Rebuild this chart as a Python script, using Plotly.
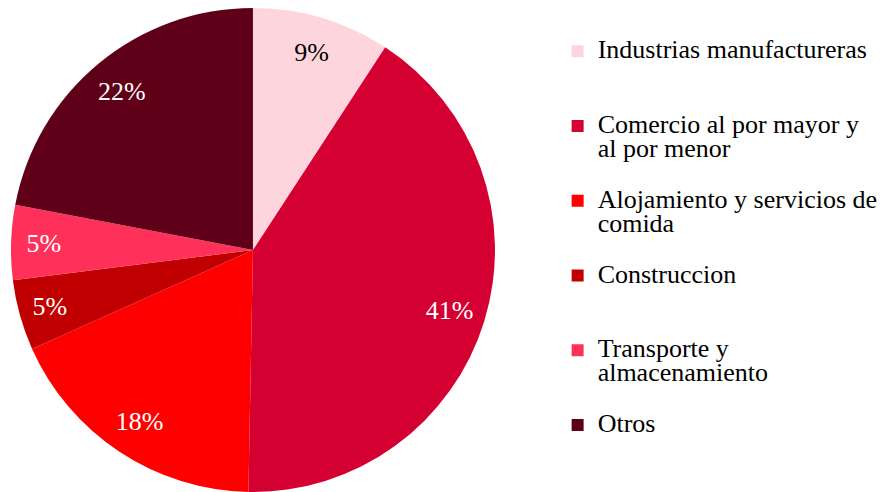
import plotly.graph_objects as go

# sectores y su participacion (%)
sectores = ["Industrias manufactureras",
            "Comercio al por mayor y<br>al por menor",
            "Alojamiento y servicios de<br>comida",
            "Construccion",
            "Transporte y<br>almacenamiento",
            "Otros"]
participacion = [9.2, 41.1, 18.0, 4.7, 5.0, 22.0]
colores = ["#FFD5DD", "#D50032", "#FF0000", "#C00000", "#FF305A", "#600018"]
color_texto = ["black", "white", "white", "white", "white", "white"]

# todas las etiquetas con 3 lineas para que el espacio entre items sea parejo
def etiqueta(s):
    lineas = s.split("<br>")
    lineas += [" "] * (3 - len(lineas))
    return "<br>".join("<span style='font-size:26px'>%s</span>" % l for l in lineas)

etiquetas = [etiqueta(s) for s in sectores]

dominio = dict(x=[0, 0.558], y=[0, 1])

fig = go.Figure()
fig.add_trace(go.Pie(
    labels=etiquetas,
    values=participacion,
    sort=False,
    direction="clockwise",
    rotation=0,
    marker=dict(colors=colores, line=dict(width=0)),
    textinfo="none",
    domain=dominio,
    hoverinfo="percent",
))
# anillo transparente solo para ubicar los porcentajes cerca del borde
fig.add_trace(go.Pie(
    labels=etiquetas,
    values=participacion,
    sort=False,
    direction="clockwise",
    rotation=0,
    hole=0.7,
    marker=dict(colors=["rgba(0,0,0,0)"] * len(participacion), line=dict(width=0)),
    texttemplate="%{percent:.0%}",
    textposition="inside",
    insidetextorientation="horizontal",
    insidetextfont=dict(family="Liberation Serif", size=26, color=color_texto),
    domain=dominio,
    showlegend=False,
    hoverinfo="skip",
))

# la pagina deja 8px de margen, por eso la figura es 8px mas chica
fig.update_layout(
    width=878, height=484,
    margin=dict(l=0, r=0, t=0, b=0),
    paper_bgcolor="white",
    plot_bgcolor="white",
    font=dict(family="Liberation Serif", size=18.4, color="black"),
    legend=dict(x=0.626, y=0.949, xanchor="left", yanchor="top",
                valign="top", font=dict(size=18.4), itemwidth=30),
    showlegend=True,
)

fig.write_html("out.html")
